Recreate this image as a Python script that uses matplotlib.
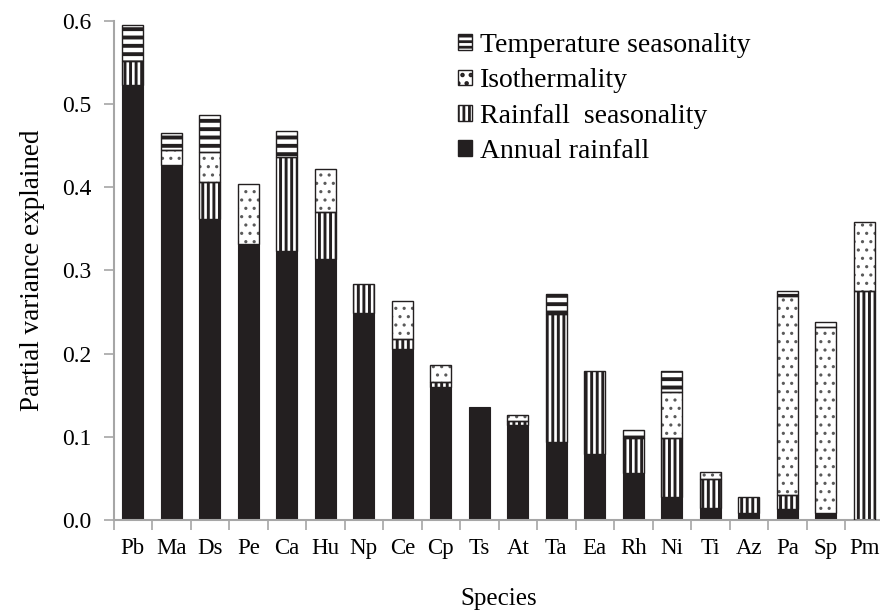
import matplotlib
matplotlib.use('Agg')
import matplotlib.pyplot as plt
from matplotlib.patches import Patch
import numpy as np

species = ['Pb', 'Ma', 'Ds', 'Pe', 'Ca', 'Hu', 'Np', 'Ce', 'Cp', 'Ts',
           'At', 'Ta', 'Ea', 'Rh', 'Ni', 'Ti', 'Az', 'Pa', 'Sp', 'Pm']
annual_rainfall = [0.523, 0.426, 0.362, 0.332, 0.323, 0.314, 0.249, 0.206, 0.160, 0.136,
                   0.114, 0.094, 0.079, 0.057, 0.028, 0.015, 0.009, 0.013, 0.009, 0.0]
rainfall_seasonality = [0.028, 0.0, 0.044, 0.0, 0.113, 0.056, 0.034, 0.012, 0.006, 0.0,
                        0.005, 0.153, 0.100, 0.041, 0.070, 0.034, 0.019, 0.017, 0.0, 0.275]
isothermality = [0.0, 0.019, 0.036, 0.072, 0.0, 0.052, 0.0, 0.045, 0.020, 0.0,
                 0.007, 0.0, 0.0, 0.0, 0.056, 0.009, 0.0, 0.239, 0.223, 0.083]
temperature_seasonality = [0.044, 0.020, 0.045, 0.0, 0.031, 0.0, 0.0, 0.0, 0.0, 0.0,
                           0.0, 0.024, 0.0, 0.010, 0.025, 0.0, 0.0, 0.006, 0.006, 0.0]
y_ticks = [0.0, 0.1, 0.2, 0.3, 0.4, 0.5, 0.6]

plt.rcParams['font.family'] = ['Liberation Serif', 'DejaVu Serif']
plt.rcParams['hatch.linewidth'] = 2.0

dark = '#231f20'
axis_gray = '#a6a6a6'
dot_gray = '#5a5a5a'

fig = plt.figure(figsize=(8.8, 6.13), dpi=100)
ax = fig.add_axes([113.5 / 880, 1 - 520 / 613, 770 / 880, (520 - 20.7) / 613])

x = np.arange(len(species)) + 0.5
w = 0.54
bottom = np.zeros(len(species))
layers = [
    (annual_rainfall, None, dark, 2.0),
    (rainfall_seasonality, '|||', dark, 2.1),
    (isothermality, '..', dot_gray, 1.1),
    (temperature_seasonality, '--', dark, 2.8),
]
for vals, hatch, hcol, hlw in layers:
    vals = np.asarray(vals, dtype=float)
    m = vals > 0
    with plt.rc_context({'hatch.linewidth': hlw}):
        if hatch is None:
            ax.bar(x[m], vals[m], w, bottom=bottom[m], color=dark, edgecolor=dark,
                   linewidth=0.8, zorder=2)
        else:
            ax.bar(x[m], vals[m], w, bottom=bottom[m], facecolor='white', edgecolor=hcol,
                   hatch=hatch, linewidth=0, zorder=2)
            ax.bar(x[m], vals[m], w, bottom=bottom[m], fill=False, edgecolor=dark,
                   linewidth=1.0, zorder=3)
    bottom += vals

ax.set_xlim(0, len(species))
ax.set_ylim(0, 0.6)
ax.set_yticks(y_ticks)
ax.set_yticklabels([f'{v:.1f}' for v in y_ticks])
ax.set_xticks(x)
ax.set_xticklabels(species)
ax.set_xticks(np.arange(len(species) + 1), minor=True)
ax.tick_params(axis='x', which='major', length=0, pad=13, labelsize=16.5)
ax.tick_params(axis='x', which='minor', length=7, width=1.2, color=axis_gray, direction='out')
ax.tick_params(axis='y', which='major', length=7, width=1.2, color=axis_gray, direction='out',
               pad=9, labelsize=17)
for s in ['top', 'right']:
    ax.spines[s].set_visible(False)
for s in ['left', 'bottom']:
    ax.spines[s].set_color(axis_gray)
    ax.spines[s].set_linewidth(1.5)

ax.set_ylabel('Partial variance explained', fontsize=19.5, labelpad=12)
ax.set_xlabel('Species', fontsize=18, labelpad=21)

with plt.rc_context({'hatch.linewidth': 1.8}):
    handles = [
        Patch(facecolor='white', edgecolor=dark, hatch='---'),
        Patch(facecolor='white', edgecolor=dark, hatch='..'),
        Patch(facecolor='white', edgecolor=dark, hatch='|||'),
        Patch(facecolor=dark, edgecolor=dark),
    ]
labels = ['Temperature seasonality', 'Isothermality', 'Rainfall  seasonality', 'Annual rainfall']
ax.legend(handles, labels, loc='upper left', bbox_to_anchor=(458 / 880, 1 - 33 / 613),
          bbox_transform=fig.transFigure, frameon=False, fontsize=20,
          handlelength=0.5, handleheight=0.5, handletextpad=0.3,
          labelspacing=0.37, borderpad=0, borderaxespad=0)

fig.savefig('out.png', dpi=100)
